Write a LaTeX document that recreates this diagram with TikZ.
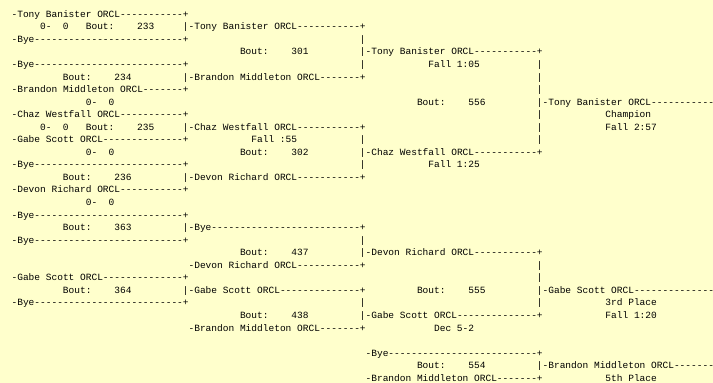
\documentclass[tikz,border=0pt]{standalone}
\usepackage{fontspec}
\setmonofont{Liberation Mono}
\definecolor{fond}{HTML}{FFFFCC}
\tikzset{
  txt/.style={anchor=base west, inner sep=0pt, outer sep=0pt,
    font=\ttfamily\fontsize{9.52}{11}\selectfont}
}
\begin{document}
\begin{tikzpicture}[x=5.71pt, y=-12.55pt]
	% Fond de la page (colonne = x, ligne = y)
	\fill[fond] (-2.0315,-1.3785) rectangle (122.837,29.139);
	\useasboundingbox (-2.0315,-1.3785) rectangle (122.837,29.139);

	% Premier tour (colonne 0)
	\node[txt] (r0c0) at (0,0) {-Tony Banister ORCL-----------+};
	\node[txt] (r1c5) at (5,1) {0-~~0};
	\node[txt] (r1c13) at (13,1) {Bout:};
	\node[txt] (r1c22) at (22,1) {233};
	\node[txt] (r2c0) at (0,2) {-Bye--------------------------+};
	\node[txt] (r4c0) at (0,4) {-Bye--------------------------+};
	\node[txt] (r5c9) at (9,5) {Bout:};
	\node[txt] (r5c18) at (18,5) {234};
	\node[txt] (r6c0) at (0,6) {-Brandon Middleton ORCL-------+};
	\node[txt] (r7c13) at (13,7) {0-~~0};
	\node[txt] (r8c0) at (0,8) {-Chaz Westfall ORCL-----------+};
	\node[txt] (r9c5) at (5,9) {0-~~0};
	\node[txt] (r9c13) at (13,9) {Bout:};
	\node[txt] (r9c22) at (22,9) {235};
	\node[txt] (r10c0) at (0,10) {-Gabe Scott ORCL--------------+};
	\node[txt] (r11c13) at (13,11) {0-~~0};
	\node[txt] (r12c0) at (0,12) {-Bye--------------------------+};
	\node[txt] (r13c9) at (9,13) {Bout:};
	\node[txt] (r13c18) at (18,13) {236};
	\node[txt] (r14c0) at (0,14) {-Devon Richard ORCL-----------+};
	\node[txt] (r15c13) at (13,15) {0-~~0};
	\node[txt] (r16c0) at (0,16) {-Bye--------------------------+};
	\node[txt] (r17c9) at (9,17) {Bout:};
	\node[txt] (r17c18) at (18,17) {363};
	\node[txt] (r18c0) at (0,18) {-Bye--------------------------+};
	\node[txt] (r21c0) at (0,21) {-Gabe Scott ORCL--------------+};
	\node[txt] (r22c9) at (9,22) {Bout:};
	\node[txt] (r22c18) at (18,22) {364};
	\node[txt] (r23c0) at (0,23) {-Bye--------------------------+};

	% Deuxieme tour (colonne 30)
	\node[txt] (r1c30) at (30,1) {|-Tony Banister ORCL-----------+};
	\node[txt] (r3c40) at (40,3) {Bout:};
	\node[txt] (r3c49) at (49,3) {301};
	\node[txt] (r5c30) at (30,5) {|-Brandon Middleton ORCL-------+};
	\node[txt] (r9c30) at (30,9) {|-Chaz Westfall ORCL-----------+};
	\node[txt] (r10c42) at (42,10) {Fall :55};
	\node[txt] (r11c40) at (40,11) {Bout:};
	\node[txt] (r11c49) at (49,11) {302};
	\node[txt] (r13c30) at (30,13) {|-Devon Richard ORCL-----------+};
	\node[txt] (r17c30) at (30,17) {|-Bye--------------------------+};
	\node[txt] (r19c40) at (40,19) {Bout:};
	\node[txt] (r19c49) at (49,19) {437};
	\node[txt] (r20c31) at (31,20) {-Devon Richard ORCL-----------+};
	\node[txt] (r22c30) at (30,22) {|-Gabe Scott ORCL--------------+};
	\node[txt] (r24c40) at (40,24) {Bout:};
	\node[txt] (r24c49) at (49,24) {438};
	\node[txt] (r25c31) at (31,25) {-Brandon Middleton ORCL-------+};

	% Troisieme tour (colonne 61)
	\foreach \r in {2,4,10,12,18,23}
		\node[txt] (r\r c61) at (61,\r) {|};
	\node[txt] (r3c61) at (61,3) {|-Tony Banister ORCL-----------+};
	\node[txt] (r4c73) at (73,4) {Fall 1:05};
	\node[txt] (r7c71) at (71,7) {Bout:};
	\node[txt] (r7c80) at (80,7) {556};
	\node[txt] (r11c61) at (61,11) {|-Chaz Westfall ORCL-----------+};
	\node[txt] (r12c73) at (73,12) {Fall 1:25};
	\node[txt] (r19c61) at (61,19) {|-Devon Richard ORCL-----------+};
	\node[txt] (r22c71) at (71,22) {Bout:};
	\node[txt] (r22c80) at (80,22) {555};
	\node[txt] (r24c61) at (61,24) {|-Gabe Scott ORCL--------------+};
	\node[txt] (r25c74) at (74,25) {Dec 5-2};
	\node[txt] (r27c62) at (62,27) {-Bye--------------------------+};
	\node[txt] (r28c71) at (71,28) {Bout:};
	\node[txt] (r28c80) at (80,28) {554};
	\node[txt] (r29c62) at (62,29) {-Brandon Middleton ORCL-------+};

	% Finales (colonne 92)
	\foreach \r in {4,5,6,8,9,10,20,21,23}
		\node[txt] (r\r c92) at (92,\r) {|};
	\node[txt] (r7c92) at (92,7) {|-Tony Banister ORCL-----------};
	\node[txt] (r8c104) at (104,8) {Champion};
	\node[txt] (r9c104) at (104,9) {Fall 2:57};
	\node[txt] (r22c92) at (92,22) {|-Gabe Scott ORCL--------------};
	\node[txt] (r23c104) at (104,23) {3rd Place};
	\node[txt] (r24c104) at (104,24) {Fall 1:20};
	\node[txt] (r28c92) at (92,28) {|-Brandon Middleton ORCL-------};
	\node[txt] (r29c104) at (104,29) {5th Place};
\end{tikzpicture}
\end{document}
